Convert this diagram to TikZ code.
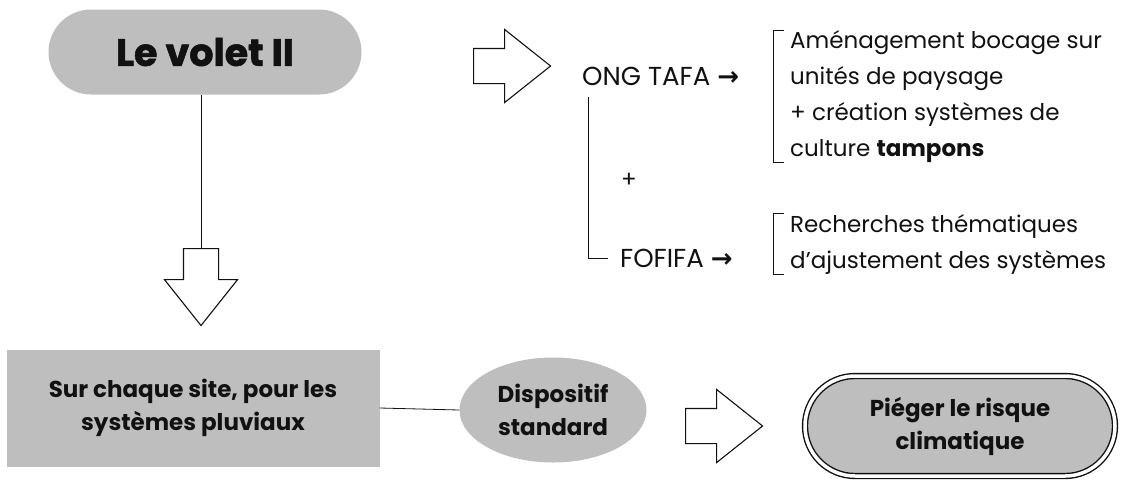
\documentclass[tikz,border=0pt]{standalone}
\usepackage{fontspec}
\setmainfont{Poppins}
\newfontfamily\heavyfont{Poppins}[BoldFeatures={FakeBold=1.5}]
\newfontfamily\arrowfont{DejaVu Sans}
\usetikzlibrary{positioning,shapes.geometric,shapes.misc,shapes.arrows}
\definecolor{stipple}{HTML}{BEBEBE}
\definecolor{ink}{HTML}{111111}

\begin{document}
\begin{tikzpicture}[x=1pt,y=-1pt,every node/.style={align=center,inner sep=0pt,text=ink},
  hollowarrow/.style={single arrow,draw=ink,line width=1.1pt,fill=white,inner xsep=0pt,inner ysep=17pt,minimum height=77pt,minimum width=72pt,single arrow head extend=19pt,single arrow tip angle=77},
  greynode/.style={fill=stipple,font=\fontsize{23}{33}\selectfont\bfseries},
  plaintext/.style={font=\fontsize{23}{36}\selectfont},
  thinline/.style={draw=ink,line width=0.8pt}]
\useasboundingbox (0,0) rectangle (1121,483);
% top row
\node[rounded rectangle,fill=stipple,minimum width=313pt,minimum height=85pt,font=\heavyfont\fontsize{38}{46}\selectfont\bfseries] (volet) at (205,52) {Le volet II};
\node[hollowarrow,anchor=tail] (rightarrow) at (473,66) {};
\node[plaintext,font=\fontsize{26}{36}\selectfont,anchor=west] (ong) at (582,76) {ONG TAFA {\arrowfont\bfseries →}};
\node[plaintext,align=left,anchor=north west] (tafatext) at (790,30) {Aménagement bocage sur\\unités de paysage\\+ création systèmes de\\culture \textbf{tampons}};
\node[plaintext] (plus) at (629,180) {+};
\node[plaintext,font=\fontsize{26}{36}\selectfont,anchor=west] (fofifa) at (620,258) {FOFIFA {\arrowfont\bfseries →}};
\node[plaintext,align=left,anchor=west] (fofifatext) at (790,244) {Recherches thématiques\\d'ajustement des systèmes};
\draw[thinline] ([xshift=-6pt]tafatext.north west) -- ([xshift=-17pt]tafatext.north west) -- ([xshift=-17pt]tafatext.south west) -- ([xshift=-6pt]tafatext.south west);
\draw[thinline] ([xshift=-6pt]fofifatext.north west) -- ([xshift=-17pt]fofifatext.north west) -- ([xshift=-17pt]fofifatext.south west) -- ([xshift=-6pt]fofifatext.south west);
\draw[thinline] ([xshift=6pt,yshift=-12pt]ong.south west) |- ([xshift=-12pt]fofifa.west);
% bottom row
\node[hollowarrow,rotate=-90,anchor=tail] (downarrow) at (201,248) {};
\draw[thinline] (downarrow.tail |- volet.south) -- (downarrow.tail);
\node[greynode,rectangle,minimum width=373pt,minimum height=117pt] (site) at (193,408) {Sur chaque site, pour les\\systèmes pluviaux};
\node[greynode,ellipse,minimum width=187pt,minimum height=105pt] (dispo) at (553,410) {Dispositif\\standard};
\draw[thinline] (site.east) -- (dispo.west);
\node[hollowarrow,anchor=tail] (botarrow) at (685,426) {};
\node[greynode,rounded rectangle,draw=ink,line width=1.4pt,double=white,double distance=3.5pt,minimum width=310pt,minimum height=100pt] (pieger) at (960,426) {Piéger le risque\\climatique};
\end{tikzpicture}
\end{document}
